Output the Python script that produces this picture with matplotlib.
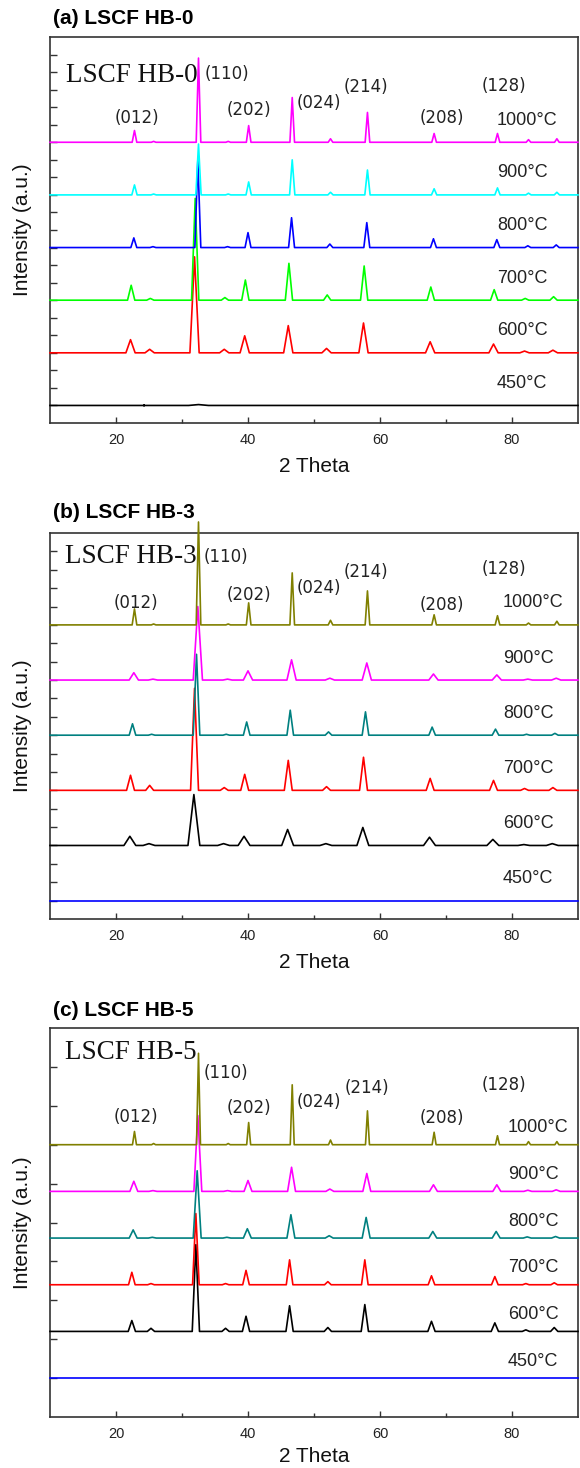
import matplotlib
matplotlib.use("Agg")
import matplotlib.pyplot as plt

# ---------------- data ----------------
temps = ["1000°C", "900°C", "800°C", "700°C", "600°C", "450°C"]
peak_theta = [22.8, 25.7, 32.5, 37.0, 40.1, 46.7, 52.5, 58.1, 68.2, 77.8, 82.5, 86.8]
miller = ["(012)", "(110)", "(202)", "(024)", "(214)", "(208)", "(128)"]

# panel (a) LSCF HB-0
a_offsets = [16, 13, 10, 7, 4, 1]
a_shifts = [0.0, 0.0, -0.1, -0.5, -0.6, 0.0]
a_halfwidth = [0.35, 0.4, 0.45, 0.55, 0.7, 1.5]
a_h1000 = [0.67, 0.05, 4.8, 0.05, 0.95, 2.55, 0.2, 1.7, 0.5, 0.5, 0.15, 0.2]
a_h900 = [0.57, 0.05, 2.9, 0.05, 0.74, 2.0, 0.15, 1.42, 0.35, 0.4, 0.1, 0.15]
a_h800 = [0.55, 0.05, 5.0, 0.05, 0.85, 1.7, 0.2, 1.42, 0.5, 0.45, 0.1, 0.15]
a_h700 = [0.85, 0.1, 5.8, 0.15, 1.15, 2.1, 0.3, 1.95, 0.75, 0.6, 0.1, 0.2]
a_h600 = [0.75, 0.2, 5.47, 0.2, 0.97, 1.55, 0.25, 1.7, 0.63, 0.5, 0.1, 0.15]
a_h450 = [0.0, 0.0, 0.05, 0.0, 0.0, 0.0, 0.0, 0.0, 0.0, 0.0, 0.0, 0.0]

# panel (b) LSCF HB-3
b_offsets = [16, 13, 10, 7, 4, 1]
b_shifts = [0.0, -0.1, -0.3, -0.6, -0.7, 0.0]
b_halfwidth = [0.35, 0.7, 0.5, 0.6, 0.9, 1.5]
b_h1000 = [0.87, 0.05, 5.6, 0.05, 1.2, 2.83, 0.25, 1.85, 0.55, 0.5, 0.1, 0.2]
b_h900 = [0.4, 0.05, 4.0, 0.05, 0.5, 1.1, 0.1, 0.93, 0.33, 0.28, 0.05, 0.1]
b_h800 = [0.62, 0.05, 4.4, 0.05, 0.72, 1.36, 0.18, 1.27, 0.44, 0.33, 0.05, 0.1]
b_h700 = [0.82, 0.27, 5.55, 0.15, 0.87, 1.63, 0.2, 1.8, 0.65, 0.54, 0.1, 0.15]
b_h600 = [0.5, 0.1, 2.77, 0.1, 0.5, 0.87, 0.1, 0.98, 0.45, 0.33, 0.05, 0.1]
b_h450 = [0.0] * 12

# panel (c) LSCF HB-5
c_offsets = [7.0, 5.8, 4.6, 3.4, 2.2, 1.0]
c_shifts = [0.0, -0.1, -0.2, -0.4, -0.4, 0.0]
c_halfwidth = [0.3, 0.6, 0.6, 0.5, 0.55, 1.5]
c_h1000 = [0.34, 0.03, 2.35, 0.03, 0.57, 1.54, 0.12, 0.87, 0.32, 0.23, 0.08, 0.08]
c_h900 = [0.26, 0.02, 1.95, 0.02, 0.28, 0.62, 0.06, 0.46, 0.17, 0.17, 0.03, 0.04]
c_h800 = [0.21, 0.02, 1.73, 0.02, 0.24, 0.6, 0.06, 0.53, 0.17, 0.17, 0.03, 0.04]
c_h700 = [0.32, 0.03, 1.83, 0.03, 0.37, 0.64, 0.08, 0.64, 0.23, 0.21, 0.03, 0.05]
c_h600 = [0.28, 0.08, 2.23, 0.08, 0.39, 0.66, 0.1, 0.69, 0.26, 0.22, 0.04, 0.1]
c_h450 = [0.0] * 12

x_ticks = [20, 40, 60, 80]

# ---------------- styling / layout ----------------
colors_a = ["#ff00ff", "#00ffff", "#0000ff", "#00ff00", "#ff0000", "#000000"]
colors_bc = ["#808000", "#ff00ff", "#008080", "#ff0000", "#000000", "#0000ff"]

panels = [
    dict(title="(a) LSCF HB-0", tag="LSCF HB-0", offsets=a_offsets, shifts=a_shifts,
         hw=a_halfwidth, heights=[a_h1000, a_h900, a_h800, a_h700, a_h600, a_h450],
         colors=colors_a, ymax=22, top=37, bot=423, title_y=18, xlab_y=467,
         tag_xy=(12.5, 19.8),
         mil_xy=[(23.15, 17.38), (36.8, 19.89), (40.2, 17.84), (50.8, 18.24),
                 (57.9, 19.15), (69.3, 17.38), (78.8, 19.21)],
         tlab_x=77.7, tlab_dy=22),
    dict(title="(b) LSCF HB-3", tag="LSCF HB-3", offsets=b_offsets, shifts=b_shifts,
         hw=b_halfwidth, heights=[b_h1000, b_h900, b_h800, b_h700, b_h600, b_h450],
         colors=colors_bc, ymax=21, top=533, bot=919, title_y=513, xlab_y=963,
         tag_xy=(12.3, 19.7),
         mil_xy=[(23.07, 17.19), (36.67, 19.7), (40.09, 17.63), (50.76, 18.01),
                 (57.8, 18.88), (69.35, 17.08), (78.71, 19.04)],
         tlab_x=78.6, tlab_dy=22),
    dict(title="(c) LSCF HB-5", tag="LSCF HB-5", offsets=c_offsets, shifts=c_shifts,
         hw=c_halfwidth, heights=[c_h1000, c_h900, c_h800, c_h700, c_h600, c_h450],
         colors=colors_bc, ymax=10, top=1028, bot=1417, title_y=1010, xlab_y=1457,
         tag_xy=(12.3, 9.38),
         mil_xy=[(23.07, 7.71), (36.6, 8.84), (40.17, 7.94), (50.76, 8.10),
                 (57.95, 8.46), (69.42, 7.69), (78.71, 8.53)],
         tlab_x=79.4, tlab_dy=17),
]

W, H = 580, 1468
fig = plt.figure(figsize=(W / 100, H / 100), dpi=100)

X0, X1 = 50, 578
for p in panels:
    ax = fig.add_axes([X0 / W, 1 - p["bot"] / H, (X1 - X0) / W, (p["bot"] - p["top"]) / H])
    ax.set_xlim(10, 90)
    ax.set_ylim(0, p["ymax"])
    for i in range(6):
        off, sh, w, hs = p["offsets"][i], p["shifts"][i], p["hw"][i], p["heights"][i]
        xs, ys = [10.0], [off]
        for t, h in zip(peak_theta, hs):
            c = t + sh
            xs += [c - w, c, c + w]
            ys += [off, off + h, off]
        xs.append(90.0)
        ys.append(off)
        ax.plot(xs, ys, color=p["colors"][i], lw=1.2, zorder=3 + (5 - i), clip_on=False)
        ax.annotate(temps[i], xy=(p["tlab_x"], off), xytext=(0, p["tlab_dy"]),
                    textcoords="offset pixels", ha="left", va="center",
                    fontsize=13, family="Liberation Sans", color="#222222")
    for lab, (mx, my) in zip(miller, p["mil_xy"]):
        ax.text(mx, my, lab, ha="center", va="center", fontsize=12,
                family="DejaVu Sans", color="#222222")
    ax.text(p["tag_xy"][0], p["tag_xy"][1], p["tag"], ha="left", va="center",
            fontsize=19.5, family="Liberation Serif", color="#111111")

    ax.set_xticks(x_ticks)
    ax.set_xticks([30, 50, 70], minor=True)
    ax.set_yticks(range(1, p["ymax"]))
    ax.set_yticklabels([])
    ax.tick_params(axis="x", which="major", direction="in", length=4, width=1,
                   labelsize=10.5, pad=7, color="#333333", labelcolor="#222222")
    ax.tick_params(axis="x", which="minor", direction="in", length=3, width=1,
                   color="#333333")
    ax.tick_params(axis="y", direction="in", length=5, width=1, color="#333333")
    for lbl in ax.get_xticklabels():
        lbl.set_family("Liberation Sans")
    for s in ax.spines.values():
        s.set_color("#333333")
        s.set_linewidth(1.2)

    fig.text(53 / W, 1 - p["title_y"] / H, p["title"], ha="left", va="center",
             fontsize=15, fontweight="bold", family="Liberation Sans")
    fig.text((X0 + X1) / 2 / W, 1 - p["xlab_y"] / H, "2 Theta", ha="center", va="center",
             fontsize=15, family="Liberation Sans", color="#111111")
    fig.text(23 / W, 1 - (p["top"] + p["bot"]) / 2 / H, "Intensity (a.u.)", ha="center",
             va="center", rotation=90, fontsize=15, family="Liberation Sans", color="#111111")

fig.savefig("out.png", dpi=100)
